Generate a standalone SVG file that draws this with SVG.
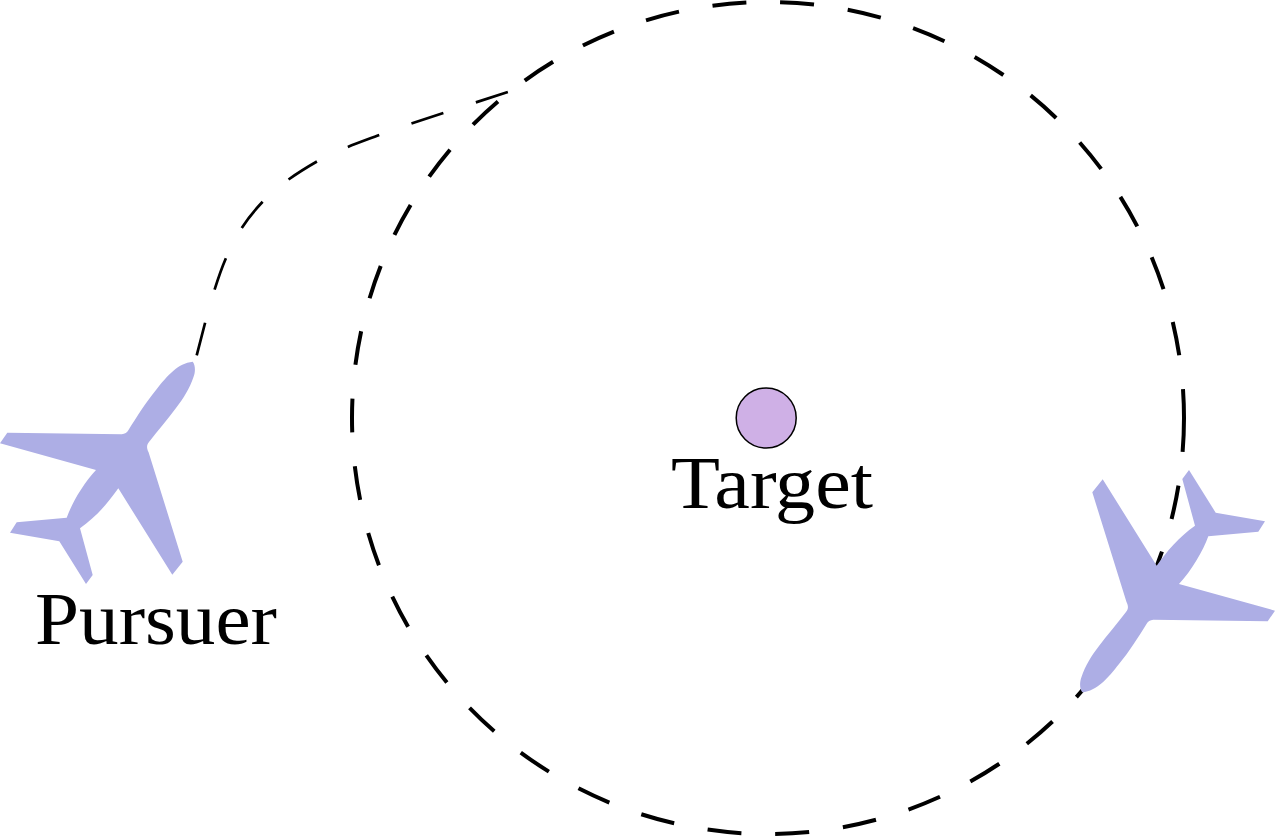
<svg xmlns="http://www.w3.org/2000/svg" xmlns:xlink="http://www.w3.org/1999/xlink" width="1275" height="836" viewBox="0 0 1275 836">
<style>
.label{font-family:"Liberation Serif","Times New Roman",serif;font-size:73px;fill:#000}
.plane{fill:#adaee5}
.orbit{fill:none;stroke:#000;stroke-width:4;stroke-dasharray:34 34}
.pursuit{fill:none;stroke:#000;stroke-width:2.7;stroke-dasharray:33.6 34.2}
</style>
<defs>
<path id="plane-shape" d="M192.7 361.7C195.5 365 195.5 372 193.5 377C190 388 183 399 176 408C168 419 158 430 149 442C146 445.5 147 449 148.5 452L182.7 561.7L172.3 574.7L118.3 488.3C108 503 96 517 80 528.3L92.7 575L86 584L59.3 541.3L10 532.7L16.7 522.3L66.7 517.7C72 503 83 484 96 470L0 443.3L7.3 432.7L121.7 434.3C125 434 127 432.5 128.5 430C136 418 146 402 156 390C167 376 178 363 192.7 361.7Z"/>
</defs>
<g id="connectors">
<circle class="orbit" cx="768" cy="418" r="416"/>
<path class="pursuit" d="M196.7 355.3C205 322.7 214.7 284.3 225.7 258.7C236.7 233.1 247.4 217.9 262.7 201.7C278 185.5 297.7 172.5 317.3 161.3C336.9 150.1 358.8 142.8 380 134.7C401.2 126.6 422.8 119.9 444.3 112.7C465.8 105.5 487.4 98.7 509 91.7"/>
</g>
<g id="target">
<circle cx="766.2" cy="418" r="30" fill="#cfb0e6" stroke="#000" stroke-width="1.5"/>
<text class="label" x="671" y="508" textLength="202" lengthAdjust="spacingAndGlyphs">Target</text>
</g>
<g id="pursuer">
<use xlink:href="#plane-shape" class="plane"/>
<text class="label" x="35" y="644" textLength="242" lengthAdjust="spacingAndGlyphs">Pursuer</text>
</g>
<g id="evader">
<use xlink:href="#plane-shape" class="plane" transform="rotate(180 637.5 527)"/>
</g>
</svg>
